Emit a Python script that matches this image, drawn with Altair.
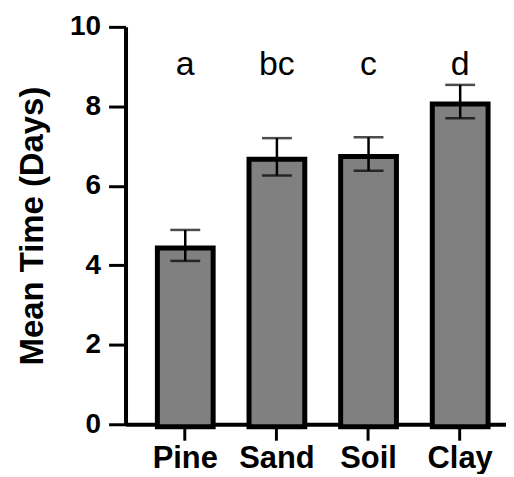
import altair as alt
import pandas as pd

categories = ["Pine", "Sand", "Soil", "Clay"]
means = [4.50, 6.73, 6.80, 8.12]
errors = [0.39, 0.47, 0.42, 0.42]
letters = ["a", "bc", "c", "d"]
y_ticks = [0, 2, 4, 6, 8, 10]

df = pd.DataFrame({
    "cat": categories,
    "mean": means,
    "lo": [m - e for m, e in zip(means, errors)],
    "hi": [m + e for m, e in zip(means, errors)],
    "letter": letters,
})

FONT = "Liberation Sans"

x = alt.X(
    "cat:N",
    sort=categories,
    scale=alt.Scale(paddingInner=0.3, paddingOuter=0.226, align=0.668),
    axis=alt.Axis(title=None, labelAngle=0, labelFontSize=31, labelPadding=3,
                  tickSize=16),
)
yscale = alt.Scale(domain=[0, 10], nice=False)

base = alt.Chart(df)

bars = base.mark_bar(
    fill="#808080", stroke="black", strokeWidth=5, width=56,
    yOffset=2.5, y2Offset=-2.5,
).encode(
    x=x,
    y=alt.Y("mean:Q", scale=yscale,
            axis=alt.Axis(values=y_ticks, title="Mean Time (Days)",
                          labelFontSize=28, labelPadding=8, tickSize=17,
                          titleFontSize=33, titlePadding=20)),
)

rules = base.mark_rule(color="black", strokeWidth=2.5).encode(
    x=x, y=alt.Y("lo:Q", scale=yscale), y2="hi:Q"
)
caps_hi = base.mark_tick(color="black", thickness=2.5, size=30).encode(
    x=x, y=alt.Y("hi:Q", scale=yscale)
)
caps_lo = base.mark_tick(color="black", thickness=2.5, size=30).encode(
    x=x, y=alt.Y("lo:Q", scale=yscale)
)
labels = base.mark_text(
    font=FONT, fontSize=34, fontWeight="normal", color="black",
    baseline="alphabetic", align="center",
).encode(x=x, y=alt.value(48), text="letter:N")

chart = alt.layer(bars, rules, caps_hi, caps_lo, labels).properties(
    width=382, height=399,
    padding={"left": 8, "top": 4, "right": 0, "bottom": 0},
).configure_view(stroke=None).configure_axis(
    grid=False,
    domainColor="black", domainWidth=4,
    tickColor="black", tickWidth=3,
    labelFont=FONT, labelFontWeight="bold", labelColor="black",
    titleFont=FONT, titleFontWeight="bold", titleColor="black",
)

chart.save("out.html", embed_options={"renderer": "svg", "actions": False})
